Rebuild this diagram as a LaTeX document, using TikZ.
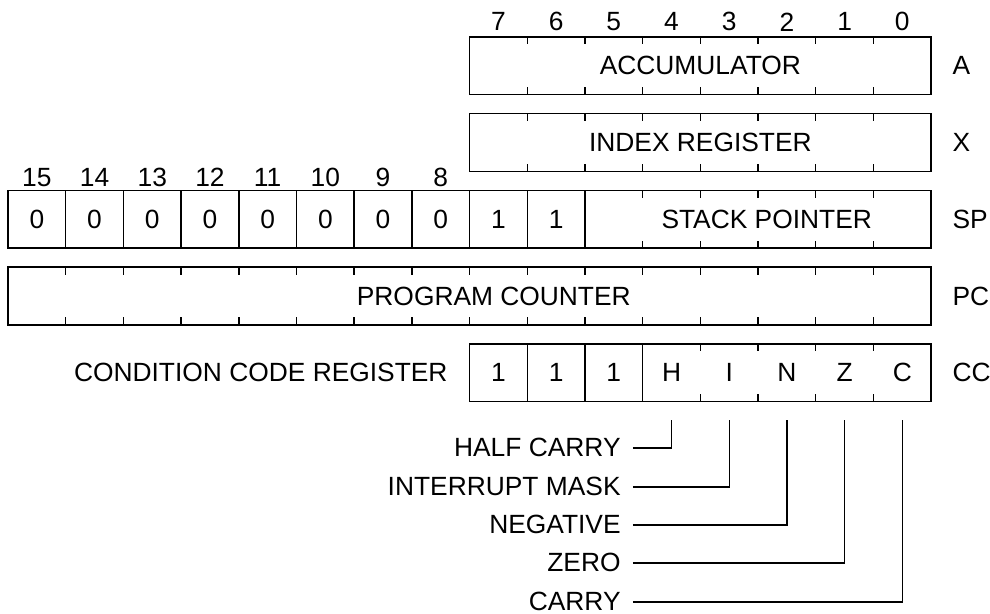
\documentclass[tikz,border=0pt]{standalone}
\usepackage{fontspec}
\setmainfont{Liberation Sans}
\begin{document}
\begin{tikzpicture}[font=\fontsize{13}{15}\selectfont, line width=0.7pt]
\useasboundingbox (-0.139,0) rectangle (17.02,10.64);

% bit numbers
\foreach \x [evaluate=\x as \bit using int(15-\x)] in {0,...,7} {
	\node (num\bit) at (\x+.5,7.57) {\bit};
}
\foreach \x [evaluate=\x as \bit using int(15-\x)] in {8,...,15} {
	\node (num\bit) at (\x+.5,10.26) {\bit};
}

% registers
\draw (8,9) rectangle (16,10) node[pos=.5] (acc) {ACCUMULATOR};
\draw (8,7.67) rectangle (16,8.67) node[pos=.5] (idx) {INDEX REGISTER};
\draw (0,6.34) rectangle (16,7.34);
\draw (0,5.01) rectangle (16,6.01);
\draw (8,3.68) rectangle (16,4.68);
\node (sp) at (13.15,6.84) {STACK POINTER};
\node (pc) at (8.42,5.51) {PROGRAM COUNTER};
\node[anchor=east, inner sep=0] (ccr) at (7.63,4.18) {CONDITION CODE REGISTER};

% ticks
\foreach \x in {9,...,15} {
	\draw (\x,9) -- ++(0,.13) (\x,10) -- ++(0,-.13);
	\draw (\x,7.67) -- ++(0,.13) (\x,8.67) -- ++(0,-.13);
}
\foreach \x in {11,...,15} {
	\draw (\x,6.34) -- ++(0,.13) (\x,7.34) -- ++(0,-.13);
}
\foreach \x in {1,...,15} {
	\draw (\x,5.01) -- ++(0,.13) (\x,6.01) -- ++(0,-.13);
}
\foreach \x in {12,...,15} {
	\draw (\x,3.68) -- ++(0,.13) (\x,4.68) -- ++(0,-.13);
}

% cells
\foreach \x in {1,...,10} {
	\draw (\x,6.34) -- (\x,7.34);
}
\foreach \x in {9,10,11} {
	\draw (\x,3.68) -- (\x,4.68);
}
\foreach \v [count=\x from 0] in {0,0,0,0,0,0,0,0,1,1} {
	\node (sp\x) at (\x+.5,6.84) {\v};
}
\foreach \v [count=\x from 8] in {1,1,1,H,I,N,Z,C} {
	\node[minimum width=1cm, minimum height=1cm, inner sep=0] (cc\x) at (\x+.5,4.18) {\v};
}

% register names
\foreach \name/\y in {A/9.5, X/8.17, SP/6.84, PC/5.51, CC/4.18} {
	\node[anchor=west, inner sep=0] (reg\name) at (16.36,\y) {\name};
}

% flags
\foreach \name/\i/\y in {HALF CARRY/11/2.877, INTERRUPT MASK/12/2.201, NEGATIVE/13/1.542, ZERO/14/0.884, CARRY/15/0.208} {
	\node[anchor=east, inner sep=0] (flag\i) at (10.63,\y) {\name};
	\draw ([xshift=2mm]flag\i.east) -| ([yshift=-3mm]cc\i.south);
}
\end{tikzpicture}
\end{document}
